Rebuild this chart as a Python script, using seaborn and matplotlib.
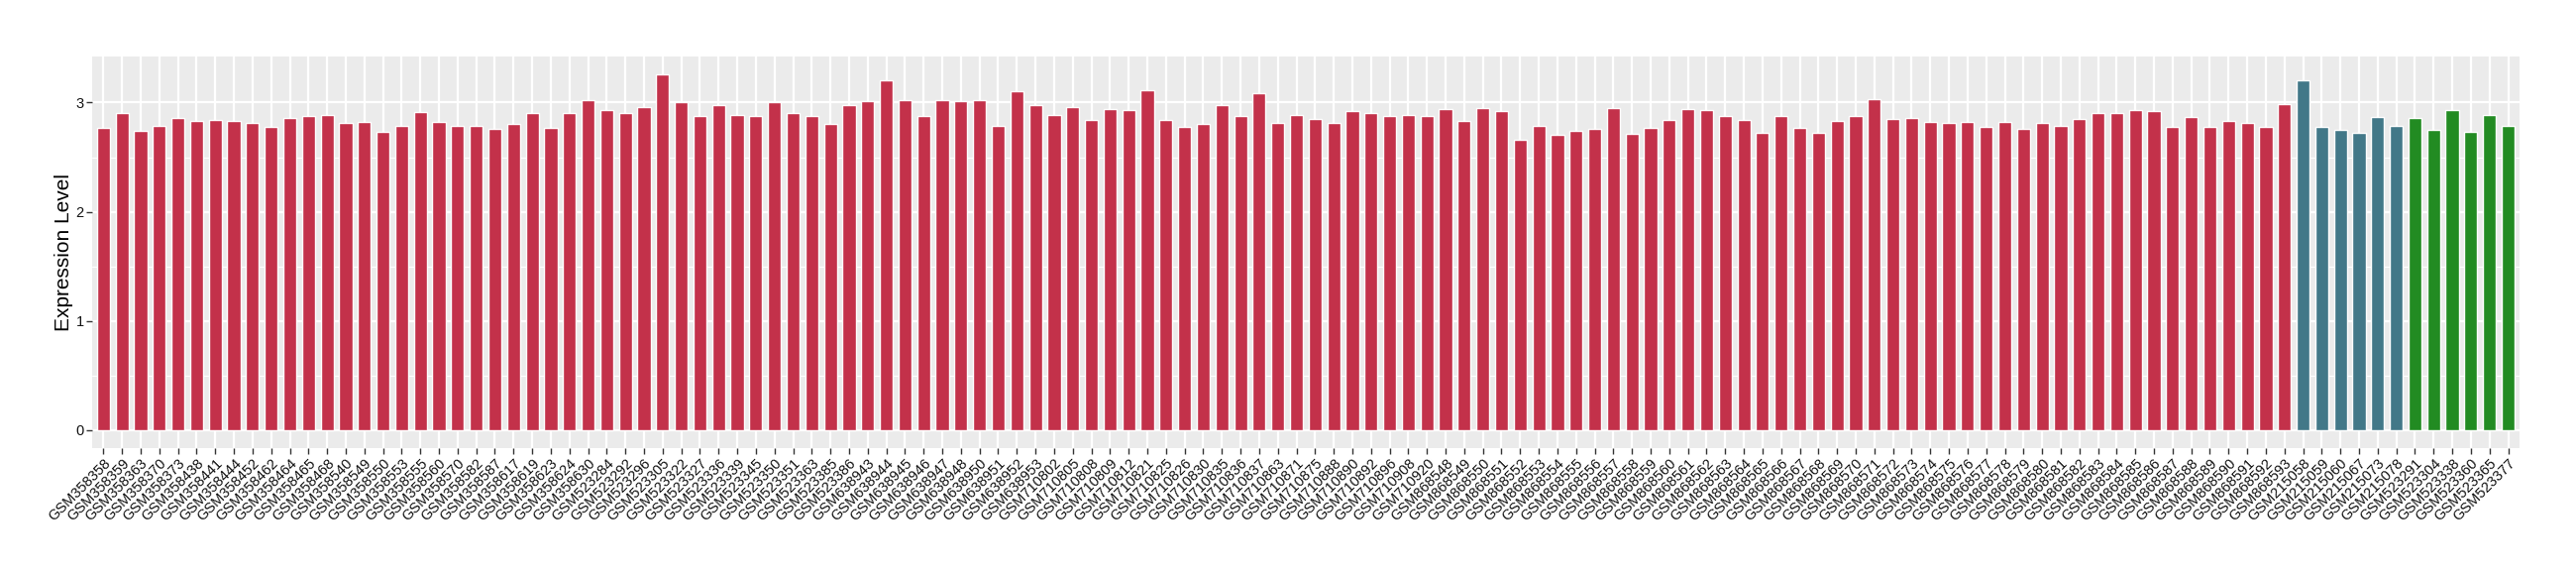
import numpy as np
import pandas as pd
import seaborn as sns
import matplotlib.pyplot as plt
from matplotlib.ticker import MultipleLocator

# sample ids, grouped by colour
red_samples = (
    ["GSM358358", "GSM358359", "GSM358363", "GSM358370", "GSM358373", "GSM358438",
     "GSM358441", "GSM358444", "GSM358452", "GSM358462", "GSM358464", "GSM358465",
     "GSM358468", "GSM358540", "GSM358549", "GSM358550", "GSM358553", "GSM358555",
     "GSM358560", "GSM358570", "GSM358582", "GSM358587", "GSM358617", "GSM358619",
     "GSM358623", "GSM358624", "GSM358630",
     "GSM523284", "GSM523292", "GSM523296", "GSM523305", "GSM523322", "GSM523327",
     "GSM523336", "GSM523339", "GSM523345", "GSM523350", "GSM523351", "GSM523363",
     "GSM523385", "GSM523386",
     "GSM638943", "GSM638944", "GSM638945", "GSM638946", "GSM638947", "GSM638948",
     "GSM638950", "GSM638951", "GSM638952", "GSM638953",
     "GSM710802", "GSM710805", "GSM710808", "GSM710809", "GSM710812", "GSM710821",
     "GSM710825", "GSM710826", "GSM710830", "GSM710835", "GSM710836", "GSM710837",
     "GSM710863", "GSM710871", "GSM710875", "GSM710888", "GSM710890", "GSM710892",
     "GSM710896", "GSM710908", "GSM710920"]
    + ["GSM8685%02d" % n for n in range(48, 94)]
)
blue_samples = ["GSM215058", "GSM215059", "GSM215060", "GSM215067", "GSM215073", "GSM215078"]
green_samples = ["GSM523291", "GSM523304", "GSM523338", "GSM523360", "GSM523365", "GSM523377"]

red_values = [
    2.77, 2.90, 2.74, 2.79, 2.86, 2.83, 2.84, 2.83, 2.81, 2.78, 2.86, 2.88, 2.89, 2.81,
    2.82, 2.73, 2.79, 2.91, 2.82, 2.79, 2.79, 2.76, 2.80, 2.90, 2.77, 2.90, 3.02, 2.93,
    2.90, 2.96, 3.26, 3.00, 2.88, 2.98, 2.89, 2.88, 3.00, 2.90, 2.88, 2.80, 2.98, 3.01,
    3.20, 3.02, 2.88, 3.02, 3.01, 3.02, 2.79, 3.10, 2.98, 2.89, 2.96, 2.84, 2.94, 2.93,
    3.11, 2.84, 2.78, 2.80, 2.98, 2.88, 3.09, 2.81, 2.89, 2.85, 2.81, 2.92, 2.90, 2.88,
    2.89, 2.88, 2.94, 2.83, 2.95, 2.92, 2.66, 2.79, 2.70, 2.74, 2.76, 2.95, 2.71, 2.77,
    2.84, 2.94, 2.93, 2.88, 2.84, 2.72, 2.88, 2.77, 2.72, 2.83, 2.88, 3.03, 2.85, 2.86,
    2.82, 2.81, 2.82, 2.78, 2.82, 2.76, 2.81, 2.79, 2.85, 2.90, 2.90, 2.93, 2.92, 2.78,
    2.87, 2.78, 2.83, 2.81, 2.78, 2.99,
]
blue_values = [3.20, 2.78, 2.75, 2.72, 2.87, 2.79]
green_values = [2.86, 2.75, 2.93, 2.73, 2.89, 2.79]

group_colors = {"red": "#C3314A", "blue": "#427888", "green": "#228B22"}

df = pd.DataFrame({
    "sample": red_samples + blue_samples + green_samples,
    "value": red_values + blue_values + green_values,
    "group": ["red"] * len(red_samples) + ["blue"] * len(blue_samples) + ["green"] * len(green_samples),
})

sns.set_theme(style="darkgrid", rc={
    "axes.facecolor": "#EBEBEB",
    "grid.color": "white",
})
plt.rcParams["font.family"] = ["Liberation Sans", "DejaVu Sans"]

fig, ax = plt.subplots(figsize=(26, 5.8), dpi=100)
fig.subplots_adjust(left=0.0358, right=0.978, top=0.902, bottom=0.221)

sns.barplot(data=df, x="sample", y="value", hue="group", palette=group_colors,
            dodge=False, width=0.7, saturation=1, legend=False, ax=ax)

n = len(df)
ymax = df["value"].max()
ax.set_xlim(-0.6, n - 0.4)
ax.set_ylim(-0.05 * ymax, ymax * 1.05)
ax.yaxis.set_major_locator(MultipleLocator(1))
ax.yaxis.set_minor_locator(MultipleLocator(0.5))
ax.grid(which="major", color="white", linewidth=1.6)
ax.grid(which="minor", axis="y", color="white", linewidth=0.8)
ax.set_axisbelow(True)
for s in ax.spines.values():
    s.set_visible(False)

ax.tick_params(axis="both", which="major", length=4, width=1, color="#333333",
               labelcolor="#111111", bottom=True, left=True)
ax.tick_params(axis="y", which="minor", length=0)
ax.tick_params(axis="y", labelsize=10.5, pad=2)
ax.tick_params(axis="x", labelsize=10.5, pad=2)
plt.setp(ax.get_xticklabels(), rotation=45, ha="right", va="top", rotation_mode="anchor")

ax.set_xlabel("")
ax.set_ylabel("Expression Level", fontsize=15, labelpad=2, color="black")

fig.savefig("out.png", dpi=100)
